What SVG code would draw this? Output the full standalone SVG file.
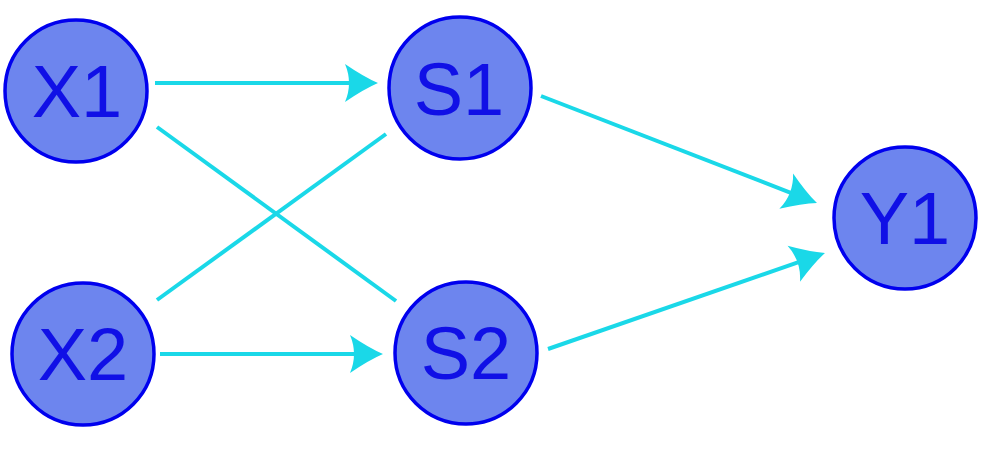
<svg xmlns="http://www.w3.org/2000/svg" width="983" height="464" viewBox="0 0 983 464">
<style>
.node circle{fill:#6d85ee;stroke:#0000ee;stroke-width:3.5}
.node text{font-family:"Liberation Sans",Arial,sans-serif;font-size:74px;fill:#1010e6;text-anchor:middle}
.edge{stroke:#1ad8e8;stroke-width:4;fill:none}
</style>
<defs>
<marker id="arr" markerUnits="userSpaceOnUse" orient="auto" viewBox="-20 -21 37 42" refX="0" refY="0" markerWidth="37" markerHeight="42">
<path d="M15,0 Q1,-6 -18,-19 Q-10,0 -18,19 Q1,6 15,0 Z" fill="#1ad8e8"/>
</marker>
</defs>
<rect width="983" height="464" fill="#ffffff"/>
<g id="connectors">
<line class="edge" x1="155" y1="83" x2="363" y2="83" marker-end="url(#arr)"/>
<line class="edge" x1="157" y1="127" x2="396" y2="301"/>
<line class="edge" x1="157" y1="300" x2="386" y2="134"/>
<line class="edge" x1="160" y1="354" x2="368" y2="354" marker-end="url(#arr)"/>
<line class="edge" x1="541" y1="96" x2="803" y2="197.6" marker-end="url(#arr)"/>
<line class="edge" x1="548" y1="349" x2="810.8" y2="257.9" marker-end="url(#arr)"/>
</g>
<g id="X1" class="node"><circle cx="76" cy="91" r="71"/><text x="77" y="117">X1</text></g>
<g id="S1" class="node"><circle cx="460" cy="88" r="71"/><text x="459" y="115">S1</text></g>
<g id="X2" class="node"><circle cx="83" cy="354" r="71"/><text x="83" y="380">X2</text></g>
<g id="S2" class="node"><circle cx="466" cy="353" r="71"/><text x="466" y="379">S2</text></g>
<g id="Y1" class="node"><circle cx="905" cy="218" r="71"/><text x="905" y="244">Y1</text></g>
</svg>
